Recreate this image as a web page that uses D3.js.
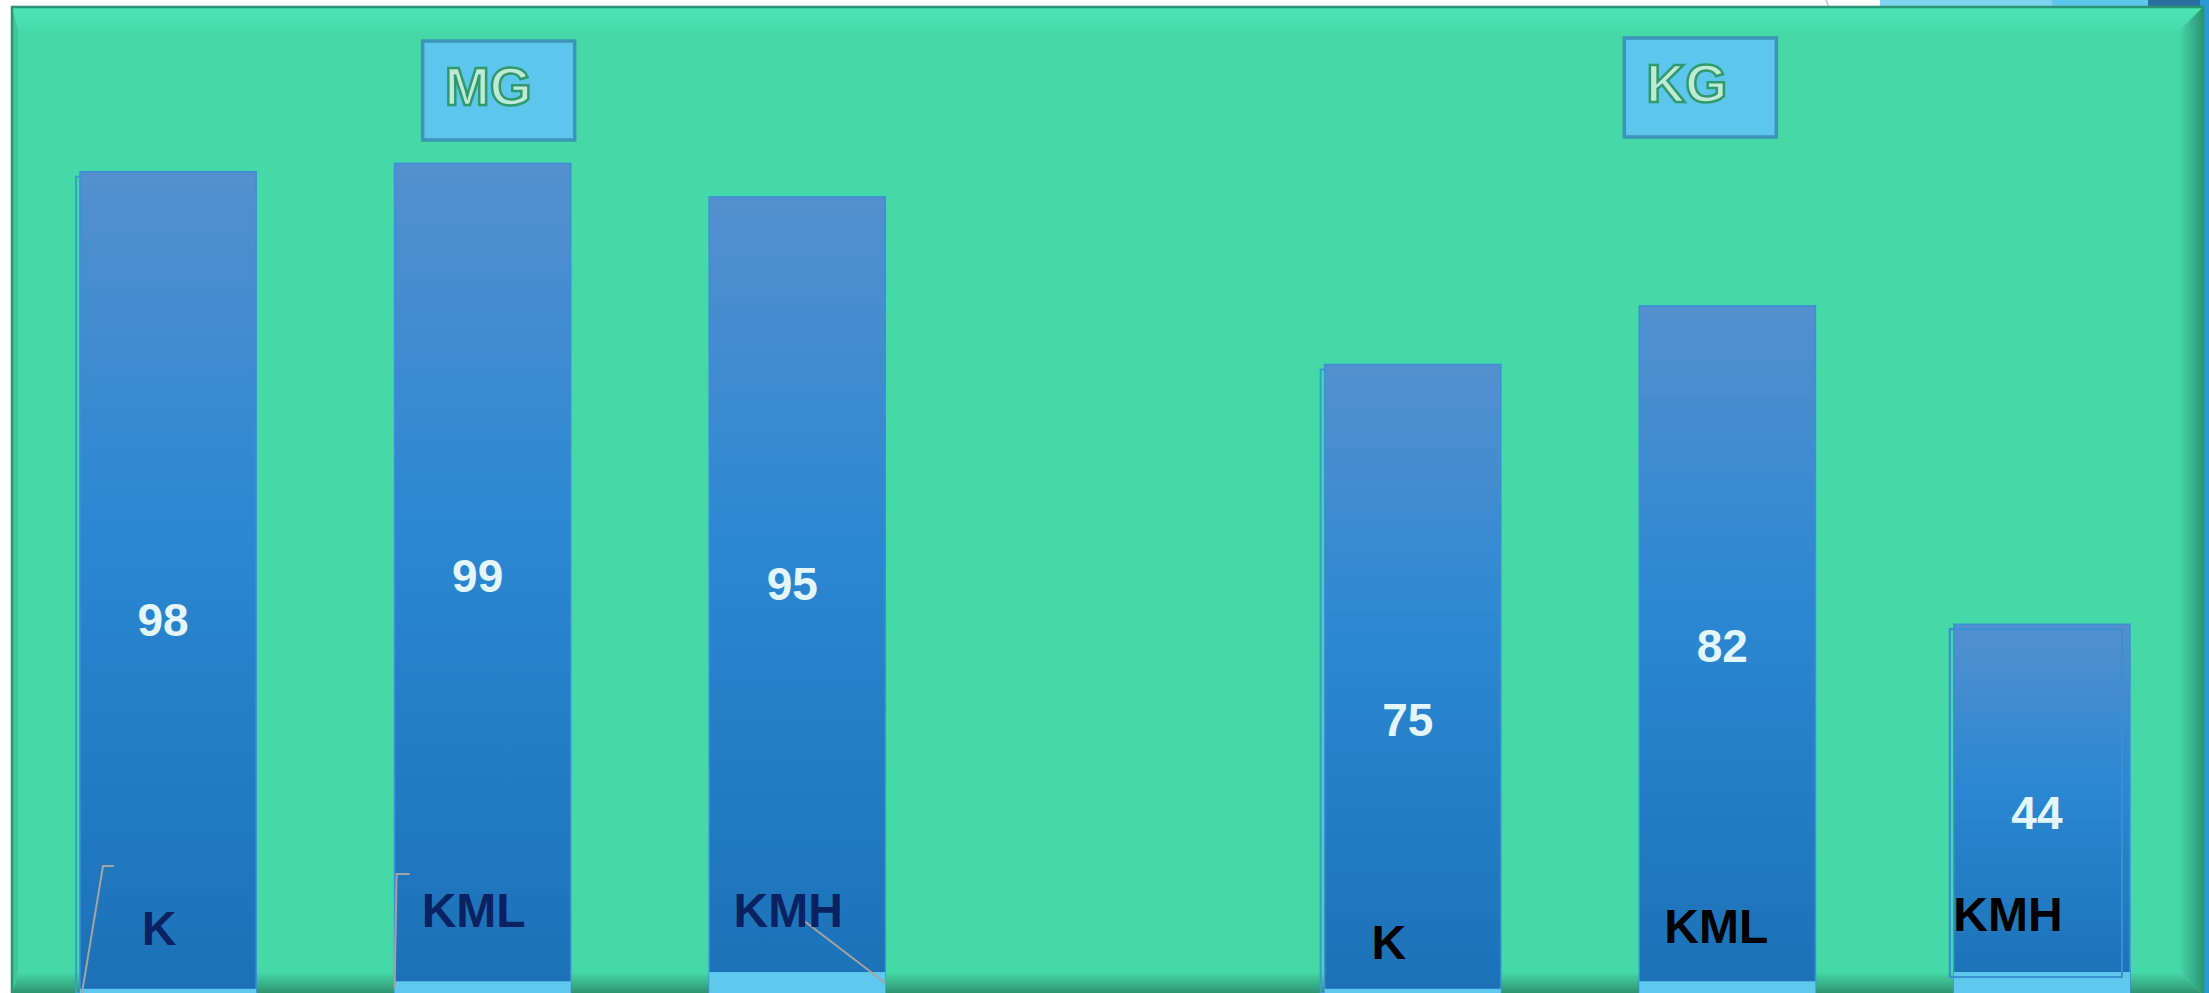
<!DOCTYPE html>
<html>
<head>
<meta charset="utf-8">
<script src="https://cdn.jsdelivr.net/npm/d3@7"></script>
<style>
    body { margin: 0; background: #ffffff; overflow: hidden; }
</style>
</head>
<body>
<div id="chart1"></div>
<script>
const groups = ["MG", "KG"]
const categories = ["K", "KML", "KMH"]
const mgValues = [98, 99, 95]
const kgValues = [75, 82, 44]
// light strip at the foot of each bar, same units as the values
const baseValues = [0.5, 1.4, 2.5]

// hand placed label nudges (px), [dx, dy]
const labelNudge = [[[-9, 10], [-9, -8], [-9, -8]], [[-24, 24], [-11, 8], [-34, -4]]]
const valueNudge = [[37, -3, -12], [41, -4, 4]]

width = 2209
height = 993

const rows = []
groups.forEach(function (g, gi) {
    const vals = gi == 0 ? mgValues : kgValues
    categories.forEach(function (c, ci) {
        rows.push({ group: g, gi: gi, cat: c, ci: ci, value: vals[ci], base: baseValues[ci] })
    })
})

const chartContainer = d3.select("#chart1")
const svg = chartContainer.append("svg")
    .attr("width", width)
    .attr("height", height)
    .style("display", "block")

const defs = svg.append("defs")

function linGrad(id, x1, y1, x2, y2, stops) {
    const g = defs.append("linearGradient").attr("id", id)
        .attr("x1", x1).attr("y1", y1).attr("x2", x2).attr("y2", y2)
    stops.forEach(s => g.append("stop").attr("offset", s[0]).attr("stop-color", s[1]))
}
linGrad("barGrad", 0, 0, 0, 1, [[0, "#5390cf"], [0.45, "#2a87d1"], [1, "#1c71b6"]])
linGrad("topBevel", 0, 0, 0, 1, [[0, "#4ce6b3"], [1, "#46dbaa"]])
linGrad("botBevel", 0, 0, 0, 1, [[0, "#44d6a6"], [1, "#2c8d6b"]])
linGrad("rightBevel", 0, 0, 1, 0, [[0, "#44d6a6"], [1, "#2d9574"]])

// bits of the slide behind the panel
svg.append("rect").attr("x", 1880).attr("y", 0).attr("width", 180).attr("height", 10).attr("fill", "#7ed3ee")
svg.append("rect").attr("x", 2052).attr("y", 0).attr("width", 100).attr("height", 10).attr("fill", "#5ec5eb")
svg.append("rect").attr("x", 2148).attr("y", 0).attr("width", 61).attr("height", 10).attr("fill", "#2b6fa0")
svg.append("rect").attr("x", 2200).attr("y", 0).attr("width", 9).attr("height", height).attr("fill", "#2a9bd0")
svg.append("path").attr("d", "M1826,0 Q1828,5 1830,10").attr("fill", "none").attr("stroke", "#b8c8d0").attr("stroke-width", 1.5)

// panel with bevel
const px0 = 12, py0 = 7, px1 = 2203, py1 = 995
const bt = 23, bl = 6, br = 23, bb = 22
svg.append("rect").attr("x", px0).attr("y", py0).attr("width", px1 - px0).attr("height", py1 - py0)
    .attr("fill", "#45d9a8")
svg.append("path").attr("fill", "url(#topBevel)")
    .attr("d", `M${px0},${py0}H${px1}L${px1 - br},${py0 + bt}H${px0 + bl}Z`)
svg.append("path").attr("fill", "#3ec89a")
    .attr("d", `M${px0},${py0}L${px0 + bl},${py0 + bt}V${py1 - bb}L${px0},${py1}Z`)
svg.append("path").attr("fill", "url(#rightBevel)")
    .attr("d", `M${px1},${py0}V${py1}L${px1 - br},${py1 - bb}V${py0 + bt}Z`)
svg.append("path").attr("fill", "url(#botBevel)")
    .attr("d", `M${px0},${py1}H${px1}L${px1 - br},${py1 - bb}H${px0 + bl}Z`)
svg.append("rect").attr("x", px0).attr("y", py0).attr("width", px1 - px0).attr("height", py1 - py0)
    .attr("fill", "none").attr("stroke", "#2b9476").attr("stroke-width", 2.5)

// scales
const x0 = d3.scaleBand().domain(groups).range([80, 2130]).paddingInner(0.353).paddingOuter(0)
const x1 = d3.scaleBand().domain(categories).range([0, x0.bandwidth()]).paddingInner(0.44).paddingOuter(0)
const y = d3.scaleLinear().domain([0, 100]).range([993, 155])

const bx = d => x0(d.group) + x1(d.cat)
const bw = x1.bandwidth()

// offset outline copies seen behind some bars
const ghosts = rows.filter(d => (d.gi == 0 && d.ci == 0) || (d.gi == 1 && d.ci != 1))
svg.append("g").selectAll("rect")
    .data(ghosts)
    .enter()
    .append("rect")
    .attr("x", d => bx(d) - 4)
    .attr("y", d => y(d.value) + 5)
    .attr("width", bw - 4)
    .attr("height", d => (d.ci == 2 ? y(1.9) : y(0)) - y(d.value) - 5)
    .attr("fill", "none")
    .attr("stroke", "#3a9ccf")
    .attr("stroke-width", 2)

const bars = svg.append("g")
bars.selectAll("rect.bar")
    .data(rows)
    .enter()
    .append("rect")
    .attr("class", "bar")
    .attr("x", bx)
    .attr("y", d => y(d.value))
    .attr("width", bw)
    .attr("height", d => y(0) - y(d.value))
    .attr("fill", "url(#barGrad)")
    .attr("stroke", "#3d8fd8")
    .attr("stroke-width", 1.5)

bars.selectAll("rect.base")
    .data(rows)
    .enter()
    .append("rect")
    .attr("class", "base")
    .attr("x", bx)
    .attr("y", d => y(d.base))
    .attr("width", bw)
    .attr("height", d => y(0) - y(d.base))
    .attr("fill", "#5ec8ee")

svg.append("g").selectAll("rect")
    .data(ghosts.filter(d => d.ci == 2))
    .enter()
    .append("rect")
    .attr("x", d => bx(d) - 4)
    .attr("y", d => y(d.value) + 5)
    .attr("width", bw - 4)
    .attr("height", d => y(1.9) - y(d.value) - 5)
    .attr("fill", "none")
    .attr("stroke", "#3a8fcf")
    .attr("stroke-width", 2)

// leader lines in the first group
const leader = svg.append("g").attr("fill", "none").attr("stroke", "#a3a3a3").attr("stroke-width", 2)
const r0 = rows[0], r1 = rows[1], r2 = rows[2]
leader.append("path").attr("d", `M${bx(r0) + 34},866H${bx(r0) + 23}L${bx(r0) + 2},993`)
leader.append("path").attr("d", `M${bx(r1) + 15},874H${bx(r1) + 2}L${bx(r1)},988`)
leader.append("path").attr("d", `M${bx(r2) + 95},921L${bx(r2) + bw},983`)

// value labels
svg.append("g").selectAll("text")
    .data(rows)
    .enter()
    .append("text")
    .attr("x", d => bx(d) + bw / 2 - 5)
    .attr("y", d => y(d.value / 2) + valueNudge[d.gi][d.ci])
    .attr("dy", "0.36em")
    .attr("text-anchor", "middle")
    .style("font", "bold 46px 'Liberation Sans', Arial, sans-serif")
    .attr("fill", "#e2f6fb")
    .text(d => d.value)

// category labels
svg.append("g").selectAll("text")
    .data(rows)
    .enter()
    .append("text")
    .attr("x", d => bx(d) + bw / 2 + labelNudge[d.gi][d.ci][0])
    .attr("y", d => 935 + labelNudge[d.gi][d.ci][1])
    .attr("text-anchor", "middle")
    .style("font", "bold 48px 'Liberation Sans', Arial, sans-serif")
    .attr("fill", d => d.gi == 0 ? "#0b2262" : "#000000")
    .text(d => d.cat)

// group title boxes
const titles = svg.append("g").selectAll("g")
    .data(groups)
    .enter()
    .append("g")
    .attr("transform", (d, i) => `translate(${x0(d) + x1("KML") + bw / 2 + (i == 0 ? -60 : -103)},${i == 0 ? 41 : 38})`)
titles.append("rect")
    .attr("width", 152)
    .attr("height", 99)
    .attr("fill", "#5cc6ec")
    .attr("stroke", "#3b95b6")
    .attr("stroke-width", 3.5)
titles.append("text")
    .attr("x", 22)
    .attr("y", 64)
    .style("font", "bold 54px 'Liberation Sans', Arial, sans-serif")
    .attr("fill", "#bfead6")
    .attr("stroke", "#2f9b6c")
    .attr("stroke-width", 2.5)
    .text(d => d)
</script>
</body>
</html>
